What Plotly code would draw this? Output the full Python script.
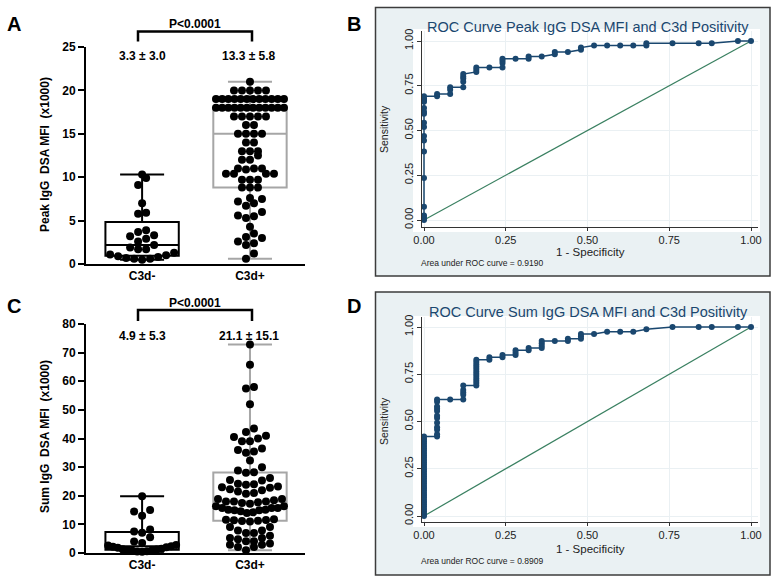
import numpy as np
import plotly.graph_objects as go

# ---------------- data ----------------
groups = ["C3d-", "C3d+"]

peak_neg = [10.3, 9.9, 9.1, 7.0, 5.9, 5.8, 3.9, 3.7, 3.3, 3.2, 2.9, 2.6, 2.2, 1.9,
            1.7, 1.7, 1.3, 1.1, 1.0, 0.9, 0.8, 0.7, 0.6, 0.6, 0.5]
peak_pos = [21.0, 20.0, 20.0, 20.0, 20.0, 20.0,
            19.0, 19.0, 19.0, 19.0, 19.0, 19.0, 19.0, 19.0, 19.0, 19.0, 19.0, 19.0,
            18.0, 18.0, 18.0, 18.0, 18.0, 18.0, 18.0, 18.0, 18.0, 18.0, 18.0, 18.0,
            17.0, 17.0, 17.0, 17.0, 17.0, 16.0, 16.0, 15.0, 15.0, 15.0, 15.0,
            14.0, 14.0, 13.0, 13.0, 13.0, 12.5, 12.0, 12.0,
            11.0, 11.0, 11.0, 10.9, 10.4, 10.4, 10.4, 10.4, 9.7, 9.7, 9.7,
            8.8, 8.8, 8.8, 7.6, 7.5, 7.2, 7.0, 6.7, 6.0, 5.6, 5.5, 5.3, 4.3,
            3.5, 3.1, 3.0, 2.6, 2.4, 2.2, 1.2, 0.6]
sum_neg = [19.8, 15.0, 14.5, 13.0, 8.2, 7.5, 7.1, 5.5, 4.0, 3.5, 2.8, 2.6, 2.4,
           2.2, 2.0, 1.8, 1.5, 1.3, 1.2, 1.0, 0.9, 0.8, 0.6, 0.5, 0.4]
sum_pos = [72.8, 65.8, 58.0, 57.5, 52.0, 43.5,
           42.3, 41.0, 40.5, 40.0, 39.0, 39.0,
           36.5, 36.0, 35.5, 35.0, 32.3,
           30.0, 28.8, 28.2, 28.0,
           26.2, 25.5, 25.3,
           24.2, 24.0, 23.8, 23.2, 23.0, 22.8,
           22.3, 21.9, 21.5, 21.0, 20.7,
           18.9, 18.9, 18.4, 18.0, 18.0, 18.0, 17.7, 17.5, 17.2,
           16.3, 16.3, 15.7,
           15.7, 15.1, 14.9, 14.6, 14.0, 14.2, 14.9, 15.1, 15.7,
           11.8, 11.6, 11.4, 11.3, 11.2, 11.0, 11.5,
           9.1, 9.1, 7.9, 7.9, 7.0, 7.0,
           6.0, 5.2, 5.2, 4.8,
           4.1, 4.1, 3.3, 2.9, 2.9, 2.1, 2.1,
           1.0]

peak_stats_text = ["3.3 \u00b1 3.0", "13.3 \u00b1 5.8"]
sum_stats_text = ["4.9 \u00b1 5.3", "21.1 \u00b1 15.1"]
p_text = "P<0.0001"

roc_ticks = [0, 0.25, 0.5, 0.75, 1.0]
roc_ticklabels = ["0.00", "0.25", "0.50", "0.75", "1.00"]

fpr_peak = [0, 0, 0, 0, 0, 0, 0, 0, 0, 0, 0, 0, 0, 0, 0, 0, 0,
            0.04, 0.04, 0.08, 0.08, 0.08, 0.12, 0.12, 0.12, 0.12, 0.12,
            0.16, 0.16, 0.16, 0.20, 0.24, 0.24, 0.24, 0.24, 0.28, 0.32, 0.32,
            0.36, 0.40, 0.40, 0.44, 0.48, 0.48, 0.52, 0.56, 0.60, 0.64, 0.68, 0.68,
            0.76, 0.84, 0.88, 0.96, 1.0]
tpr_peak = [0, 0.012, 0.025, 0.074, 0.235, 0.383, 0.444, 0.469, 0.519, 0.543,
            0.593, 0.605, 0.625, 0.66, 0.667, 0.679, 0.691,
            0.691, 0.704, 0.704, 0.728, 0.741, 0.741, 0.772, 0.79, 0.802, 0.815,
            0.827, 0.840, 0.852, 0.852, 0.852, 0.877, 0.889, 0.901, 0.901, 0.901, 0.914,
            0.914, 0.926, 0.938, 0.938, 0.951, 0.963, 0.975, 0.975, 0.975, 0.975, 0.975, 0.988,
            0.988, 0.988, 0.988, 1.0, 1.0]

fpr_sum = [0, 0, 0, 0, 0, 0, 0, 0, 0, 0, 0, 0, 0, 0, 0, 0, 0, 0, 0, 0,
           0, 0, 0, 0, 0, 0, 0, 0, 0, 0, 0, 0, 0, 0, 0,
           0.04, 0.04, 0.04, 0.04, 0.04, 0.04, 0.04, 0.04, 0.04, 0.04, 0.04, 0.04,
           0.08, 0.12, 0.12, 0.12, 0.12, 0.12,
           0.16, 0.16, 0.16, 0.16, 0.16, 0.16, 0.16, 0.16, 0.16, 0.16, 0.16, 0.16,
           0.20, 0.20, 0.24, 0.24, 0.28, 0.28, 0.28, 0.32, 0.32,
           0.36, 0.36, 0.36, 0.36, 0.40, 0.44, 0.44, 0.48, 0.48, 0.48, 0.52,
           0.56, 0.60, 0.64, 0.68, 0.76, 0.84, 0.88, 0.96, 1.0]
tpr_sum = [0, 0.012, 0.025, 0.037, 0.05, 0.062, 0.074, 0.086, 0.099, 0.111,
           0.123, 0.136, 0.148, 0.16, 0.173, 0.185, 0.198, 0.21, 0.222, 0.235,
           0.247, 0.259, 0.272, 0.284, 0.296, 0.309, 0.321, 0.333, 0.346, 0.358,
           0.37, 0.383, 0.395, 0.407, 0.42,
           0.42, 0.432, 0.457, 0.469, 0.494, 0.519, 0.531, 0.556, 0.568, 0.58, 0.605, 0.617,
           0.617, 0.617, 0.642, 0.654, 0.667, 0.691,
           0.691, 0.704, 0.716, 0.728, 0.741, 0.753, 0.765, 0.778, 0.79, 0.802, 0.815, 0.827,
           0.827, 0.84, 0.84, 0.852, 0.852, 0.864, 0.877, 0.877, 0.889,
           0.889, 0.901, 0.914, 0.926, 0.926, 0.926, 0.938, 0.938, 0.951, 0.963, 0.963,
           0.975, 0.975, 0.975, 0.988, 1.0, 1.0, 1.0, 1.0, 1.0]
auc_peak = "0.9190"
auc_sum = "0.8909"

# ---------------- layout helpers ----------------
W, H = 778, 582
FONT = "Liberation Sans, Arial, sans-serif"
NAVY = "#1a476f"


def fx(px):
    return px / W


def fy(py):
    return 1 - py / H


def swarm(vals, px_per_y, px_per_x, diam=8.0, maxw=68.0):
    v = sorted(vals)
    rows, cur = [], [v[0]]
    for val in v[1:]:
        if (val - cur[0]) * px_per_y < diam * 0.95:
            cur.append(val)
        else:
            rows.append(cur)
            cur = [val]
    rows.append(cur)
    xs, ys = [], []
    for row in rows:
        n = len(row)
        sp = diam if n == 1 else min(diam, maxw / (n - 1))
        slots = sorted([i - (n - 1) / 2 for i in range(n)], key=lambda s: (abs(s), s))
        for val, s in zip(row, slots):
            xs.append(s * sp / px_per_x)
            ys.append(val)
    return xs, ys


def box_stats(vals):
    q1, med, q3 = np.percentile(vals, [25, 50, 75], method="weibull")
    return dict(q1=[q1], median=[med], q3=[q3], lowerfence=[min(vals)], upperfence=[max(vals)])


fig = go.Figure()

# Column scatter panels
XRANGE = [-0.52, 1.51]
px_per_x = (305 - 86) / (XRANGE[1] - XRANGE[0])
panels = [
    ("x", "y", peak_neg, peak_pos, (264 - 47) / 25),
    ("x2", "y2", sum_neg, sum_pos, (553 - 324) / 80),
]
for xa, ya, neg, pos, ppy in panels:
    for gi, (vals, col) in enumerate([(neg, "black"), (pos, "#a6a6a6")]):
        fig.add_trace(go.Box(x=[gi], **box_stats(vals), width=0.68, whiskerwidth=0.6,
                             line=dict(color=col, width=2), fillcolor="rgba(0,0,0,0)",
                             boxpoints=False, xaxis=xa, yaxis=ya, showlegend=False,
                             hoverinfo="skip"))
    for gi, vals in enumerate([neg, pos]):
        xs, ys = swarm(vals, ppy, px_per_x)
        fig.add_trace(go.Scatter(x=[gi + d for d in xs], y=ys, mode="markers",
                                 marker=dict(color="black", size=8, line=dict(width=0)),
                                 xaxis=xa, yaxis=ya, showlegend=False, cliponaxis=False))

# ROC panels
for xa, ya, fpr, tpr in [("x3", "y3", fpr_peak, tpr_peak), ("x4", "y4", fpr_sum, tpr_sum)]:
    fig.add_trace(go.Scatter(x=[0, 1], y=[0, 1], mode="lines",
                             line=dict(color="#3a8061", width=1.2),
                             xaxis=xa, yaxis=ya, showlegend=False))
    fig.add_trace(go.Scatter(x=fpr, y=tpr, mode="lines+markers",
                             line=dict(color=NAVY, width=1.5),
                             marker=dict(color=NAVY, size=6),
                             xaxis=xa, yaxis=ya, showlegend=False, cliponaxis=False))

bold12 = dict(family=FONT, size=12, color="black", weight="bold")
col_x = dict(range=XRANGE, tickvals=[0, 1], ticktext=groups, ticks="", showline=True,
             linecolor="black", linewidth=2, showgrid=False, zeroline=False,
             tickfont=bold12, domain=[fx(86), fx(305)])
col_y = dict(ticks="outside", ticklen=6, tickwidth=2, tickcolor="black", showline=True,
             linecolor="black", linewidth=2, showgrid=False, zeroline=False, tickfont=bold12)

roc_x = dict(domain=[fx(422), fx(758)], range=[-2 / 327, 1 + 7 / 327], tickvals=roc_ticks,
             ticktext=roc_ticklabels, ticks="outside", ticklen=3, tickcolor="#333",
             showline=True, linecolor="#333", linewidth=1, showgrid=True,
             gridcolor="#eaf0f3", zeroline=False,
             tickfont=dict(family=FONT, size=11, color="#222"))
roc_y = dict(tickvals=roc_ticks, ticktext=roc_ticklabels, ticks="outside", ticklen=4,
             tickcolor="#333", showline=True, linecolor="#333", linewidth=1, showgrid=True,
             gridcolor="#eaf0f3", zeroline=False, tickangle=-90,
             tickfont=dict(family=FONT, size=11, color="#222"))

fig.update_layout(
    width=W, height=H, margin=dict(l=0, r=0, t=0, b=0, autoexpand=False),
    paper_bgcolor="white", plot_bgcolor="rgba(0,0,0,0)",
    xaxis=dict(col_x, anchor="y"),
    yaxis=dict(col_y, anchor="x", domain=[fy(264), fy(47)], range=[0, 25],
               tickvals=[0, 5, 10, 15, 20, 25]),
    xaxis2=dict(col_x, anchor="y2"),
    yaxis2=dict(col_y, anchor="x2", domain=[fy(553), fy(324)], range=[0, 80],
                tickvals=[0, 10, 20, 30, 40, 50, 60, 70, 80]),
    xaxis3=dict(roc_x, anchor="y3"),
    yaxis3=dict(roc_y, anchor="x3", domain=[fy(227), fy(31)], range=[-7 / 179, 1 + 10 / 179]),
    xaxis4=dict(roc_x, anchor="y4"),
    yaxis4=dict(roc_y, anchor="x4", domain=[fy(522), fy(317)], range=[-6 / 189, 1 + 10 / 189]),
)

shapes = []
# ROC panel frames and white plot regions
for top, bot, ptop, pbot in [(7.5, 276, 29, 232), (292, 575, 316, 527)]:
    shapes.append(dict(type="rect", xref="paper", yref="paper", x0=fx(375.5), x1=fx(770),
                       y0=fy(bot), y1=fy(top), fillcolor="#eaf1f3",
                       line=dict(color="#3c3c3c", width=1.5), layer="below"))
    shapes.append(dict(type="rect", xref="paper", yref="paper", x0=fx(413), x1=fx(760),
                       y0=fy(pbot), y1=fy(ptop), fillcolor="white",
                       line=dict(width=0), layer="below"))
# significance brackets
for ytop, ybot in [(31.5, 41.5), (310, 321)]:
    shapes.append(dict(type="path", xref="paper", yref="paper",
                       path=f"M {fx(138)},{fy(ybot)} L {fx(138)},{fy(ytop)} "
                            f"L {fx(252)},{fy(ytop)} L {fx(252)},{fy(ybot)}",
                       line=dict(color="black", width=2.5)))
fig.update_layout(shapes=shapes)

ann = []


def text(x, y, s, size=12, bold=True, color="black", angle=0, xanchor="center"):
    ann.append(dict(x=fx(x), y=fy(y), xref="paper", yref="paper", text=s, showarrow=False,
                    xanchor=xanchor, yanchor="middle", textangle=angle,
                    font=dict(family=FONT, size=size, color=color,
                              weight="bold" if bold else "normal")))


for lab, x, y in [("A", 14, 24.5), ("B", 354, 24.5), ("C", 14, 306), ("D", 354, 306)]:
    text(x, y, lab, size=20)
text(195, 24.5, p_text)
text(195, 302.5, p_text)
text(142, 56, peak_stats_text[0])
text(249, 56, peak_stats_text[1])
text(142, 336, sum_stats_text[0])
text(249, 336, sum_stats_text[1])
text(45, 155, "Peak IgG\u00a0 DSA MFI\u00a0 (x1000)", angle=-90)
text(45, 437, "Sum IgG\u00a0 DSA MFI\u00a0 (x1000)", angle=-90)

text(588, 27, "ROC Curve Peak IgG DSA MFI and C3d Positivity", size=14.5, bold=False, color=NAVY)
text(588, 312, "ROC Curve Sum IgG DSA MFI and C3d Positivity", size=14.5, bold=False, color=NAVY)
text(384, 129, "Sensitivity", size=10.5, bold=False, color="#222", angle=-90)
text(384, 421, "Sensitivity", size=10.5, bold=False, color="#222", angle=-90)
text(590, 252, "1 - Specificity", size=11.5, bold=False, color="#222")
text(590, 549, "1 - Specificity", size=11.5, bold=False, color="#222")
text(419, 263, "Area under ROC curve = " + auc_peak, size=8.5, bold=False, color="#222", xanchor="left")
text(419, 561, "Area under ROC curve = " + auc_sum, size=8.5, bold=False, color="#222", xanchor="left")
fig.update_layout(annotations=ann)

fig.write_html("out.html", config={"displayModeBar": False},
               post_script="document.body.style.margin='0px';"
                           "document.body.style.overflow='hidden';")
